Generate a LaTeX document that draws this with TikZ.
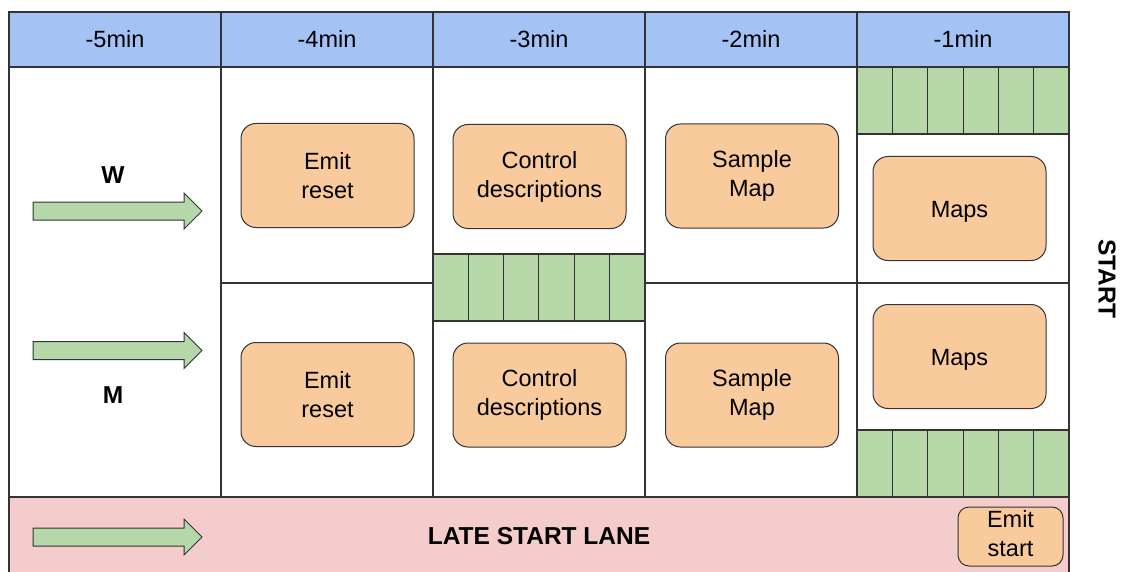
\documentclass[tikz,border=0pt]{standalone}
\usepackage{fontspec}
\setmainfont{Liberation Sans}
\usetikzlibrary{positioning, shapes.arrows}

\definecolor{headblue}{HTML}{A4C2F4}
\definecolor{slotgreen}{HTML}{B6D7A8}
\definecolor{taskorange}{HTML}{F9CB9C}
\definecolor{lanepink}{HTML}{F4CCCC}
\definecolor{edge}{HTML}{333333}

\begin{document}
\begin{tikzpicture}[x=1pt, y=-1pt,
  every node/.style={font=\fontsize{23.5}{29}\selectfont, inner sep=0pt, outer sep=0pt},
  head/.style={draw=edge, line width=1.3pt, fill=headblue, minimum width=212pt, minimum height=55pt,
    text height=17pt, text depth=0pt},
  cell/.style={draw=edge, line width=1.3pt, minimum width=212pt},
  slots/.style={cell, fill=slotgreen, minimum height=67pt},
  task/.style={draw=edge, line width=1pt, fill=taskorange, rounded corners=15pt,
    minimum width=173pt, minimum height=104pt, align=center},
  flow/.style={single arrow, draw=edge, line width=1pt, fill=slotgreen, minimum height=169pt,
    inner ysep=8.5pt, single arrow head extend=9pt},
  tag/.style={font=\fontsize{24.5}{29}\selectfont\bfseries}]

  \clip (0,0) rectangle (1123,572);

  % header row
  \node[head] (h5) at (115,39.5) {-5min};
  \node[head, right=0pt of h5] (h4) {-4min};
  \node[head, right=0pt of h4] (h3) {-3min};
  \node[head, right=0pt of h3] (h2) {-2min};
  \node[head, right=0pt of h2] (h1) {-1min};

  % columns
  \node[cell, minimum height=430pt, below=0pt of h5] (c5) {};
  \node[cell, minimum height=216pt, below=0pt of h4] (c4a) {};
  \node[cell, minimum height=214pt, below=0pt of c4a] (c4b) {};
  \node[cell, minimum height=187pt, below=0pt of h3] (c3a) {};
  \node[slots, below=0pt of c3a] (g3) {};
  \node[cell, minimum height=176pt, below=0pt of g3] (c3b) {};
  \node[cell, minimum height=216pt, below=0pt of h2] (c2a) {};
  \node[cell, minimum height=214pt, below=0pt of c2a] (c2b) {};
  \node[slots, below=0pt of h1] (g1a) {};
  \node[cell, minimum height=149pt, below=0pt of g1a] (c1a) {};
  \node[cell, minimum height=147pt, below=0pt of c1a] (c1b) {};
  \node[slots, below=0pt of c1b] (g1b) {};

  \foreach \g in {g3, g1a, g1b}
    \foreach \k in {1,...,5}
      \draw[edge, line width=1pt] ([xshift=\k*35.33pt]\g.north west) -- ([xshift=\k*35.33pt]\g.south west);

  % lanes
  \node[tag] (w) at (113,175) {W};
  \node[tag] (m) at (113,395) {M};
  \node[flow] (fw) at (113,211) {};
  \node[flow] (fm) at (113,350.5) {};

  % tasks
  \node[task] (reset1) at (327.5,175.5) {Emit\\reset};
  \node[task] (ctrl1) at (539.5,176.5) {Control\\descriptions};
  \node[task] (sample1) at (752,176) {Sample\\Map};
  \node[task, text height=17pt, text depth=0pt] (maps1) at (959.5,208.5) {Maps};
  \node[task] (reset2) at (327.5,394.5) {Emit\\reset};
  \node[task] (ctrl2) at (539.5,395) {Control\\descriptions};
  \node[task] (sample2) at (752,395) {Sample\\Map};
  \node[task, text height=17pt, text depth=0pt] (maps2) at (959.5,356.5) {Maps};

  % late start
  \node[cell, fill=lanepink, minimum width=1060pt, minimum height=79pt, tag] (late) at (539,536.5) {LATE START LANE};
  \node[flow] (fl) at (113,537) {};
  \node[task, minimum width=105pt, minimum height=59pt, rounded corners=11pt, text depth=6pt] (start) at (1010.5,536.5) {Emit\\start};

  \node[tag, rotate=-90] (go) at (1107,279) {START};
\end{tikzpicture}
\end{document}
